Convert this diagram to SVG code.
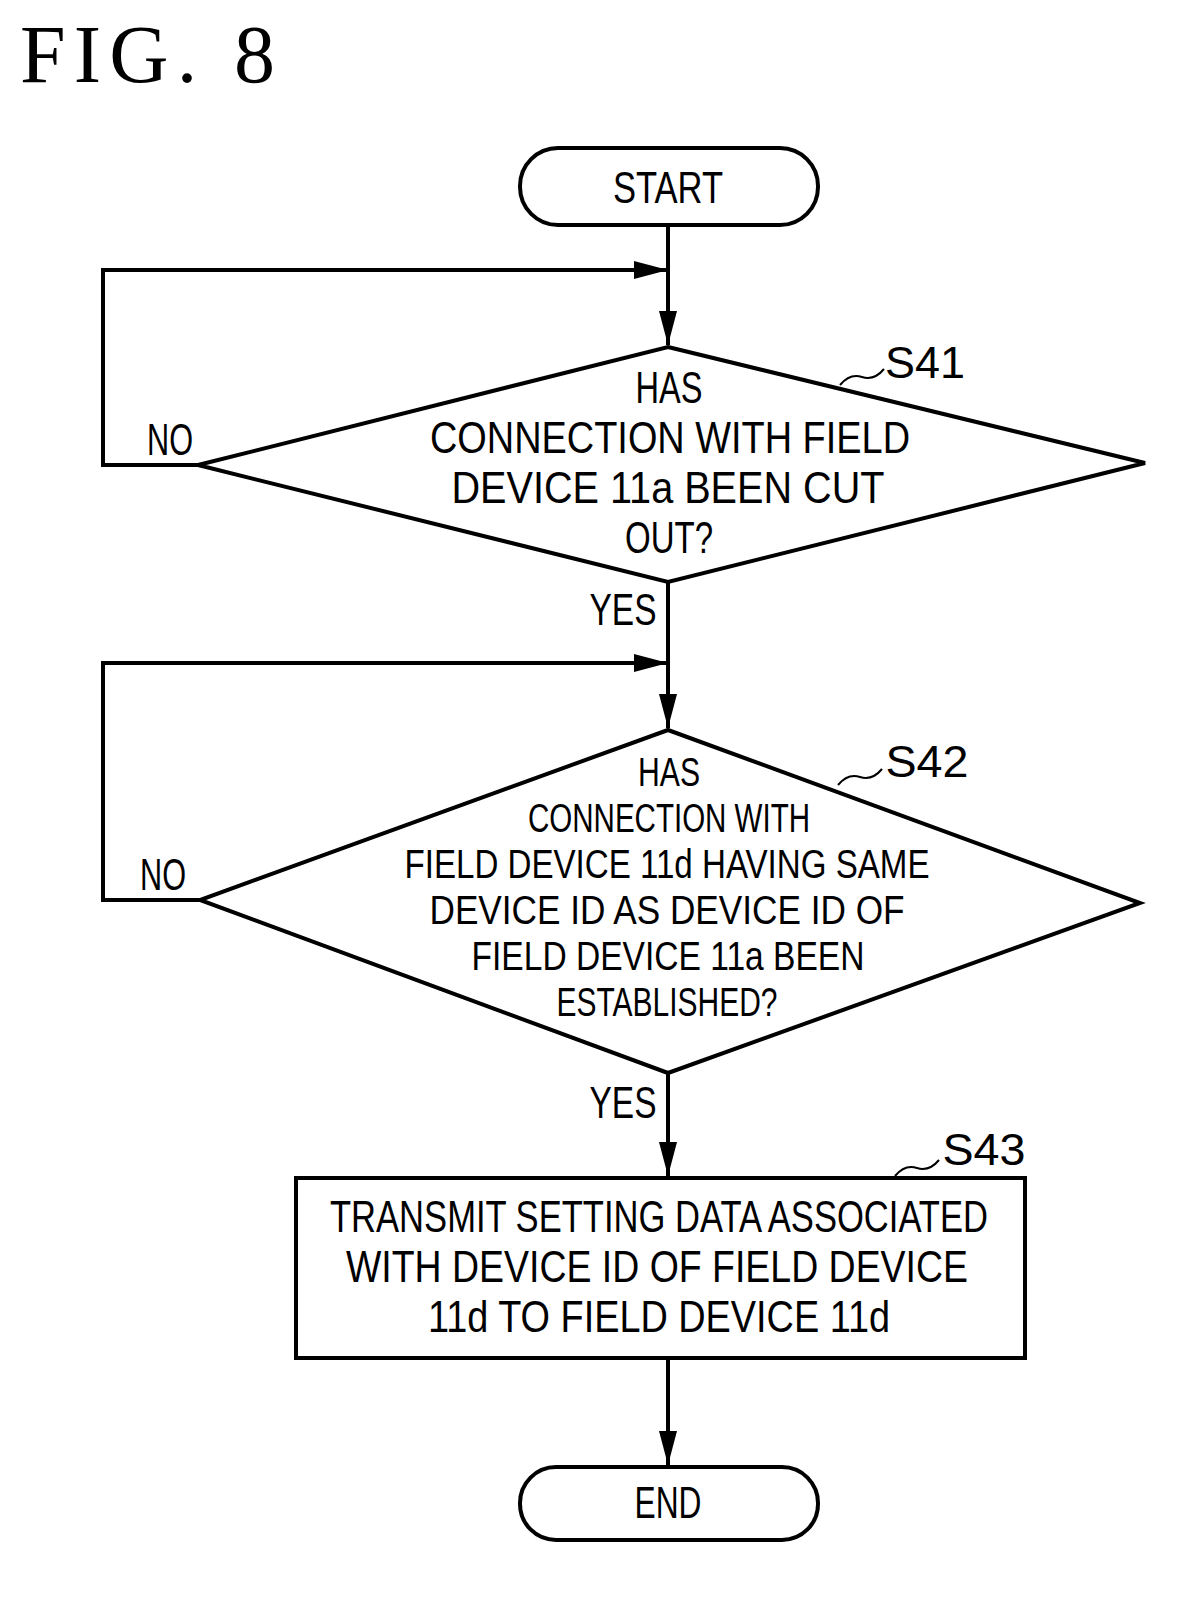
<svg xmlns="http://www.w3.org/2000/svg" width="1199" height="1613" viewBox="0 0 1199 1613">
<style>
.s{fill:none;stroke:#000;stroke-width:4}
.t{font-family:"Liberation Sans",Arial,sans-serif;font-size:44px;fill:#000;text-anchor:middle}
.m{font-size:40px}
.l{fill:none;stroke:#000;stroke-width:2}
</style>
<defs>
<marker id="b" markerWidth="34" markerHeight="18" refX="34" refY="9" orient="auto" markerUnits="userSpaceOnUse"><path d="M0,0 L34,9 L0,18 Z"/></marker></defs>
<rect width="1199" height="1613" fill="#fff"/>
<text x="20" y="82" font-family="Liberation Serif,serif" font-size="82" textLength="255" lengthAdjust="spacing">FIG. 8</text>
<g id="connectors" class="s">
<path d="M668,225 V345" marker-end="url(#b)"/>
<path d="M198,465 H103 V270 H668" marker-end="url(#b)"/>
<path d="M668,582 V728" marker-end="url(#b)"/>
<path d="M200,900 H103 V663 H668" marker-end="url(#b)"/>
<path d="M668,1073 V1176" marker-end="url(#b)"/>
<path d="M668,1358 V1465" marker-end="url(#b)"/>
</g>
<g id="start"><rect x="520" y="148" width="298" height="77" rx="38" class="s"/><text class="t" x="668" y="203" textLength="110" lengthAdjust="spacingAndGlyphs">START</text></g>
<g id="s41"><polygon points="668,347 1145,463 668,582 198,465" class="s"/>
<text class="t" x="669" y="403" textLength="67" lengthAdjust="spacingAndGlyphs">HAS</text>
<text class="t" x="670" y="453" textLength="480" lengthAdjust="spacingAndGlyphs">CONNECTION WITH FIELD</text>
<text class="t" x="668" y="503" textLength="433" lengthAdjust="spacingAndGlyphs">DEVICE 11a BEEN CUT</text>
<text class="t" x="669" y="553" textLength="88" lengthAdjust="spacingAndGlyphs">OUT?</text>
<text class="t" x="170" y="455" textLength="46" lengthAdjust="spacingAndGlyphs">NO</text>
<text class="t" x="623" y="625" textLength="67" lengthAdjust="spacingAndGlyphs">YES</text>
<path class="l" d="M840,385 q10,-12 22,-8 q12,4 22,-8"/>
<text class="t" x="925" y="378" font-size="48" textLength="80" lengthAdjust="spacingAndGlyphs">S41</text></g>
<g id="s42"><polygon points="668,730 1140,903 668,1073 200,900" class="s"/>
<text class="t m" x="669" y="786" textLength="62" lengthAdjust="spacingAndGlyphs">HAS</text>
<text class="t m" x="669" y="832" textLength="282" lengthAdjust="spacingAndGlyphs">CONNECTION WITH</text>
<text class="t m" x="667" y="878" textLength="525" lengthAdjust="spacingAndGlyphs">FIELD DEVICE 11d HAVING SAME</text>
<text class="t m" x="667" y="924" textLength="475" lengthAdjust="spacingAndGlyphs">DEVICE ID AS DEVICE ID OF</text>
<text class="t m" x="668" y="970" textLength="393" lengthAdjust="spacingAndGlyphs">FIELD DEVICE 11a BEEN</text>
<text class="t m" x="667" y="1016" textLength="221" lengthAdjust="spacingAndGlyphs">ESTABLISHED?</text>
<text class="t" x="163" y="890" textLength="46" lengthAdjust="spacingAndGlyphs">NO</text>
<text class="t" x="623" y="1118" textLength="67" lengthAdjust="spacingAndGlyphs">YES</text>
<path class="l" d="M838,785 q10,-12 22,-8 q12,4 22,-8"/>
<text class="t" x="927" y="777" font-size="48" textLength="83" lengthAdjust="spacingAndGlyphs">S42</text></g>
<g id="s43"><rect x="296" y="1178" width="729" height="180" class="s"/>
<text class="t" x="659" y="1232" textLength="658" lengthAdjust="spacingAndGlyphs">TRANSMIT SETTING DATA ASSOCIATED</text>
<text class="t" x="657" y="1282" textLength="622" lengthAdjust="spacingAndGlyphs">WITH DEVICE ID OF FIELD DEVICE</text>
<text class="t" x="659" y="1332" textLength="462" lengthAdjust="spacingAndGlyphs">11d TO FIELD DEVICE 11d</text>
<path class="l" d="M895,1176 q10,-12 22,-8 q12,4 22,-8"/>
<text class="t" x="984" y="1165" font-size="48" textLength="83" lengthAdjust="spacingAndGlyphs">S43</text></g>
<g id="end"><rect x="520" y="1467" width="298" height="73" rx="36" class="s"/><text class="t" x="668" y="1518" textLength="67" lengthAdjust="spacingAndGlyphs">END</text></g>
</svg>
